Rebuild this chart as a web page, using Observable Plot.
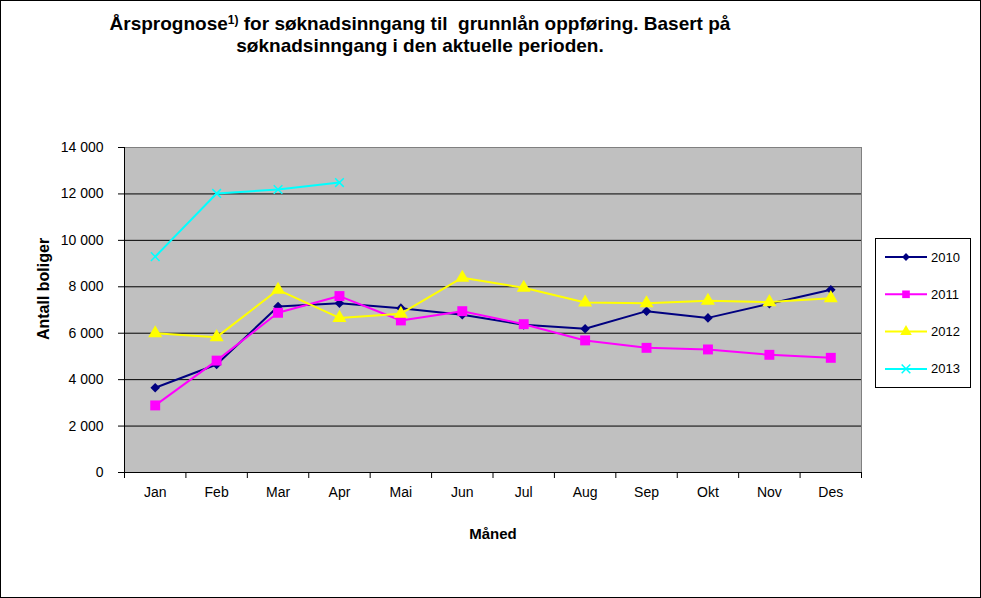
<!DOCTYPE html>
<html>
<head>
<meta charset="utf-8">
<script src="https://cdn.jsdelivr.net/npm/d3@7"></script>
<script src="https://cdn.jsdelivr.net/npm/@observablehq/plot@0.6"></script>
<style>
  html, body { margin: 0; padding: 0; background: #fff; }
  #wrap { position: relative; width: 981px; height: 598px; overflow: hidden; font-family: "Liberation Sans", Arial, sans-serif; }
  #chart { position: absolute; left: 0; top: 0; }
  #title { position: absolute; left: 0; top: 13px; width: 840px; text-align: center; font-weight: bold; font-size: 19px; line-height: 22px; color: #000; }
  #title sup { font-size: 12px; vertical-align: 6px; line-height: 0; }
  #border { position: absolute; left: 0; top: 0; width: 981px; height: 598px; box-sizing: border-box; border: 1px solid #000; pointer-events: none; }
  #legend { position: absolute; left: 875px; top: 238px; }
</style>
</head>
<body>
<div id="wrap">
  <div id="chart"></div>
  <div id="title">Årsprognose<sup>1)</sup> for søknadsinngang til&nbsp; grunnlån oppføring. Basert på<br>søknadsinngang i den aktuelle perioden.</div>
  <div id="legend"></div>
  <div id="border"></div>
</div>
<script>
const months = ["Jan","Feb","Mar","Apr","Mai","Jun","Jul","Aug","Sep","Okt","Nov","Des"];
const seriesNames = ["2010","2011","2012","2013"];
const v2010 = [3650,4650,7150,7290,7080,6800,6360,6190,6950,6660,7270,7870];
const v2011 = [2890,4820,6880,7600,6550,6950,6390,5690,5370,5300,5070,4940];
const v2012 = [6000,5830,7870,6660,6840,8390,7960,7320,7290,7400,7340,7510];
const v2013 = [9300,12020,12190,12490];
const yTicks = [0,2000,4000,6000,8000,10000,12000,14000];
const colors = ["#000080","#ff00ff","#ffff00","#00ffff"];
const symbols = ["diamond2","square","triangle","times"];

const values = [v2010, v2011, v2012, v2013];
const data = [];
values.forEach((arr, s) => arr.forEach((v, i) => data.push({series: seriesNames[s], m: i + 1, value: v})));

const fmt = d => d3.format(",")(d).replace(/,/g, " ");
const boundaries = d3.range(0, 13).map(i => i + 0.5);

const seriesMarks = seriesNames.flatMap((name, s) => {
  const d = data.filter(r => r.series === name);
  const isStroke = symbols[s] === "times";
  return [
    Plot.line(d, {x: "m", y: "value", stroke: colors[s], strokeWidth: 2}),
    Plot.dot(d, isStroke
      ? {x: "m", y: "value", symbol: symbols[s], r: 4, stroke: colors[s], strokeWidth: 1.5}
      : {x: "m", y: "value", symbol: symbols[s], r: s === 0 ? 4.3 : s === 1 ? 5.6 : 5.2, fill: colors[s], stroke: "none"})
  ];
});

const chart = Plot.plot({
  width: 981,
  height: 598,
  marginLeft: 124,
  marginRight: 120,
  marginTop: 147,
  marginBottom: 126,
  style: {fontFamily: "'Liberation Sans', Arial, sans-serif", fontSize: "13px", color: "#000", background: "transparent", overflow: "visible"},
  x: {type: "linear", domain: [0.5, 12.5]},
  y: {domain: [0, 14000]},
  marks: [
    Plot.frame({fill: "#c0c0c0", stroke: "#808080"}),
    Plot.gridY({ticks: yTicks.filter(t => t > 0 && t < 14000), stroke: "#000", strokeOpacity: 1, strokeWidth: 1}),
    Plot.axisY({ticks: yTicks, tickFormat: fmt, tickSize: 6, tickPadding: 15, label: null, fontSize: 14}),
    Plot.axisX({ticks: boundaries, tickFormat: () => "", tickSize: 6, label: null}),
    Plot.axisX({ticks: d3.range(1, 13), tickFormat: i => months[i - 1], tickSize: 0, tickPadding: 15, label: null, fontSize: 14}),
    Plot.ruleX([0.5], {stroke: "#000"}),
    Plot.ruleY([0], {stroke: "#000"}),
    ...seriesMarks,
    Plot.text(["Antall boliger"], {text: d => d, frameAnchor: "left", textAnchor: "middle", dx: -81, dy: -21, rotate: -90, fontWeight: "bold", fontSize: 16}),
    Plot.text(["Måned"], {text: d => d, frameAnchor: "bottom", dy: 66, fontWeight: "bold", fontSize: 15})
  ]
});
document.getElementById("chart").appendChild(chart);

// Legend
const lw = 96, lh = 150;
const leg = d3.select("#legend").append("svg").attr("width", lw).attr("height", lh)
  .style("font-family", "'Liberation Sans', Arial, sans-serif");
leg.append("rect").attr("x", 0.5).attr("y", 0.5).attr("width", lw - 1).attr("height", lh - 1)
  .attr("fill", "#fff").attr("stroke", "#000");
const d3sym = {diamond2: d3.symbolDiamond2, square: d3.symbolSquare, triangle: d3.symbolTriangle, times: d3.symbolTimes};
seriesNames.forEach((name, s) => {
  const cy = 19 + s * 37.3;
  const g = leg.append("g").attr("transform", `translate(0,${cy})`);
  g.append("line").attr("x1", 10).attr("x2", 52).attr("y1", 0).attr("y2", 0)
    .attr("stroke", colors[s]).attr("stroke-width", 2);
  const rr = symbols[s] === "times" ? 4 : s === 0 ? 3.5 : 4.3;
  const p = d3.symbol(d3sym[symbols[s]], rr * rr * Math.PI)();
  if (symbols[s] === "times") {
    g.append("path").attr("d", p).attr("transform", "translate(31,0)").attr("fill", "none").attr("stroke", colors[s]).attr("stroke-width", 1.5);
  } else {
    g.append("path").attr("d", p).attr("transform", "translate(31,0)").attr("fill", colors[s]);
  }
  g.append("text").attr("x", 56).attr("y", 0).attr("dy", "0.35em").attr("font-size", 13).text(name);
});
</script>
</body>
</html>
